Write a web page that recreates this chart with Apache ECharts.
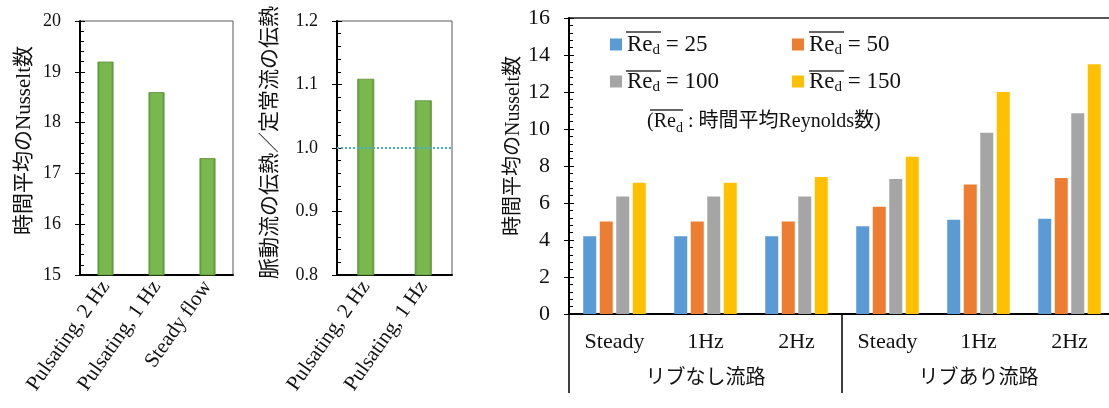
<!DOCTYPE html>
<html>
<head>
<meta charset="utf-8">
<script src="https://cdn.jsdelivr.net/npm/echarts@6/dist/echarts.min.js"></script>
<style>html,body{margin:0;padding:0;background:#fff}#c{width:1109px;height:408px}</style>
</head>
<body>
<div id="c"></div>
<script>
// ---- data ----
const leftCats = ['Pulsating, 2 Hz', 'Pulsating, 1 Hz', 'Steady flow'];
const leftNu = [19.2, 18.6, 17.3];
const midCats = ['Pulsating, 2 Hz', 'Pulsating, 1 Hz'];
const midRatio = [1.109, 1.075];
const rightCats = ['Steady', '1Hz', '2Hz', 'Steady', '1Hz', '2Hz'];
const rightGroups = ['リブなし流路', 'リブあり流路'];
const reLabels = ['25', '50', '100', '150'];
const re25 = [4.2, 4.2, 4.2, 4.75, 5.1, 5.15];
const re50 = [5.0, 5.0, 5.0, 5.8, 7.0, 7.35];
const re100 = [6.35, 6.35, 6.35, 7.3, 9.8, 10.85];
const re150 = [7.1, 7.1, 7.4, 8.5, 12.0, 13.5];
const leftYName = '時間平均のNusselt数';
const midYName = '脈動流の伝熱／定常流の伝熱';
const noteText = ['(', 'Re', 'd', ' : 時間平均Reynolds数)'];

// ---- styles ----
const SERIF = "'Liberation Serif', 'Noto Sans CJK JP', serif";
const CJK = "'Noto Sans CJK JP', sans-serif";
const TXT = '#111';
const barColors = ['#5b9bd5', '#ed7d31', '#a5a5a5', '#ffc000'];
const green = {
  type: 'linear', x: 0, y: 0, x2: 1, y2: 0,
  colorStops: [{offset: 0, color: '#5f9b3b'}, {offset: 0.18, color: '#79b84d'},
               {offset: 0.82, color: '#79b84d'}, {offset: 1, color: '#5a9436'}]
};

const chart = echarts.init(document.getElementById('c'), null, {renderer: 'canvas'});

function valAxis(grid, min, max, interval, fs, name, gap, nameFs, shift, fmt) {
  return [{
    type: 'value', gridIndex: grid, position: 'left', min: min, max: max, interval: interval,
    axisLine: {show: true, lineStyle: {color: '#000', width: 2}},
    axisTick: {show: true, inside: true, length: 5, lineStyle: {color: '#000', width: 1}},
    minorTick: {show: true, splitNumber: 5, length: 4, lineStyle: {color: '#000', width: 1}},
    splitLine: {show: false},
    axisLabel: {fontFamily: SERIF, fontSize: fs, color: TXT, margin: 19, formatter: fmt},
    name: name, nameLocation: 'middle', nameGap: gap,
    nameTextStyle: {fontFamily: SERIF, fontSize: nameFs, color: TXT, padding: [0, 0, 0, shift]}
  }, {
    type: 'value', gridIndex: grid, position: 'left', offset: 0, min: min, max: max, interval: interval,
    axisLine: {show: false},
    axisTick: {show: true, inside: false, length: 5, lineStyle: {color: '#000', width: 1}},
    splitLine: {show: false}, axisLabel: {show: false}
  }];
}

function legendItem(i, left, top) {
  return {
    data: ['Re_d = ' + reLabels[i]], left: left, top: top, padding: 0,
    itemWidth: 12, itemHeight: 12, itemGap: 0, icon: 'rect', selectedMode: false,
    formatter: function () { return '{re|Re}{d|d}{t| = ' + reLabels[i] + '}'; },
    textStyle: {
      fontFamily: SERIF, fontSize: 23, color: TXT,
      rich: {
        re: {fontFamily: SERIF, fontSize: 23, lineHeight: 26, color: TXT},
        d: {fontFamily: SERIF, fontSize: 15, lineHeight: 16, verticalAlign: 'bottom', color: TXT},
        t: {fontFamily: SERIF, fontSize: 23, lineHeight: 26, color: TXT}
      }
    }
  };
}

const overline = (x1, x2, y) => ({
  type: 'line', silent: true,
  shape: {x1: x1, y1: y, x2: x2, y2: y},
  style: {stroke: '#333', lineWidth: 1.3}
});

const yAxes = [].concat(
  valAxis(0, 15, 20, 1, 18, leftYName, 45, 21, 15),
  valAxis(1, 0.8, 1.2, 0.1, 18, midYName, 56, 21, 11, v => v.toFixed(1)),
  valAxis(2, 0, 16, 2, 22, leftYName, 44, 20, 40)
);

const option = {
  animation: false,
  grid: [
    {left: 80, top: 21, width: 153, height: 254, show: true, borderColor: '#595959', borderWidth: 1, outerBoundsMode: 'none', containLabel: false},
    {left: 337, top: 21, width: 115, height: 254, show: true, borderColor: '#595959', borderWidth: 1, outerBoundsMode: 'none', containLabel: false},
    {left: 569, top: 18, width: 546, height: 296, show: true, borderColor: '#222', borderWidth: 1.5, outerBoundsMode: 'none', containLabel: false}
  ],
  xAxis: [
    {type: 'category', gridIndex: 0, data: leftCats,
     axisLine: {lineStyle: {color: '#000', width: 2}}, axisTick: {show: false},
     axisLabel: {interval: 0, rotate: 55, fontFamily: SERIF, fontSize: 21, color: TXT, margin: 8}},
    {type: 'category', gridIndex: 1, data: midCats,
     axisLine: {lineStyle: {color: '#000', width: 2}}, axisTick: {show: false},
     axisLabel: {interval: 0, rotate: 55, fontFamily: SERIF, fontSize: 21, color: TXT, margin: 8}},
    {type: 'category', gridIndex: 2, data: rightCats, position: 'bottom',
     axisLine: {lineStyle: {color: '#000', width: 2}}, axisTick: {show: false},
     axisLabel: {interval: 0, fontFamily: SERIF, fontSize: 22, color: TXT, margin: 17}},
    {type: 'category', gridIndex: 2, data: rightGroups, position: 'bottom', offset: 0,
     axisLine: {show: false},
     axisTick: {show: true, interval: 0, length: 79, lineStyle: {color: '#000', width: 1.5}},
     axisLabel: {interval: 0, fontFamily: CJK, fontSize: 20, color: TXT, margin: 52}}
  ],
  yAxis: yAxes,
  legend: [legendItem(0, 610, 33), legendItem(1, 792, 33), legendItem(2, 610, 70), legendItem(3, 792, 70)],
  graphic: [
    overline(626, 661, 32), overline(809, 844, 32),
    overline(626, 661, 71), overline(809, 844, 71),
    overline(650, 683, 110),
    {type: 'text', left: 647, top: 112, silent: true,
     style: {
       text: '{p|' + noteText[0] + '}{re|' + noteText[1] + '}{d|' + noteText[2] + '}{t|' + noteText[3] + '}',
       rich: {
         p: {fontFamily: SERIF, fontSize: 20, lineHeight: 26, fill: TXT},
         re: {fontFamily: SERIF, fontSize: 20, lineHeight: 26, fill: TXT},
         d: {fontFamily: SERIF, fontSize: 14, lineHeight: 15, verticalAlign: 'bottom', fill: TXT},
         t: {fontFamily: SERIF, fontSize: 20, lineHeight: 26, fill: TXT}
       }
     }}
  ],
  series: [
    {type: 'bar', xAxisIndex: 0, yAxisIndex: 0, data: leftNu, barWidth: 16,
     itemStyle: {color: green, borderColor: '#5a8f37', borderWidth: 0.8}},
    {type: 'bar', xAxisIndex: 1, yAxisIndex: 2, data: midRatio, barWidth: 17,
     itemStyle: {color: green, borderColor: '#5a8f37', borderWidth: 0.8},
     markLine: {silent: true, symbol: 'none', label: {show: false},
       lineStyle: {type: 'dotted', color: '#4bacc6', width: 2},
       data: [{yAxis: 1.0}]}},
    {type: 'bar', name: 'Re_d = ' + reLabels[0], xAxisIndex: 2, yAxisIndex: 4, data: re25, barWidth: 13, barGap: '27%', itemStyle: {color: barColors[0]}},
    {type: 'bar', name: 'Re_d = ' + reLabels[1], xAxisIndex: 2, yAxisIndex: 4, data: re50, barWidth: 13, barGap: '27%', itemStyle: {color: barColors[1]}},
    {type: 'bar', name: 'Re_d = ' + reLabels[2], xAxisIndex: 2, yAxisIndex: 4, data: re100, barWidth: 13, barGap: '27%', itemStyle: {color: barColors[2]}},
    {type: 'bar', name: 'Re_d = ' + reLabels[3], xAxisIndex: 2, yAxisIndex: 4, data: re150, barWidth: 13, barGap: '27%', itemStyle: {color: barColors[3]}}
  ]
};
chart.setOption(option);
</script>
</body>
</html>
